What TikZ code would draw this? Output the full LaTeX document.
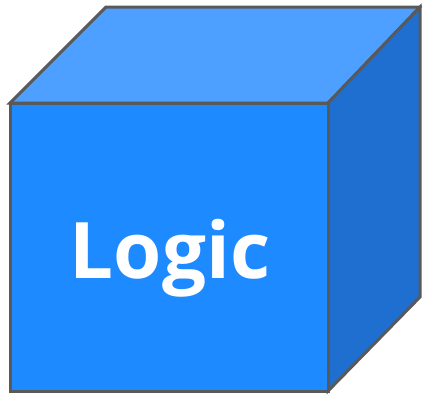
\documentclass[tikz,border=0pt]{standalone}
\usepackage{fontspec}
\setmainfont{Open Sans}
\definecolor{frontc}{RGB}{30,138,255}
\definecolor{topc}{RGB}{77,160,255}
\definecolor{sidec}{RGB}{30,111,208}
\definecolor{edgec}{RGB}{89,89,89}
\begin{document}
\begin{tikzpicture}[x=1pt,y=-1pt,
  face/.style={draw=edgec,line width=3pt,line join=miter}]
\useasboundingbox (0,0) rectangle (422,394);
\fill[topc,face] (10,103) -- (106,7) -- (420,7) -- (328,103) -- cycle;
\fill[sidec,face] (328,103) -- (420,7) -- (420,297) -- (328,391) -- cycle;
\fill[frontc,face] (10,103) rectangle (328,391);
\node[text=white,font=\fontsize{78}{80}\selectfont\bfseries,anchor=base] (label) at (170,278) {Logic};
\end{tikzpicture}
\end{document}
